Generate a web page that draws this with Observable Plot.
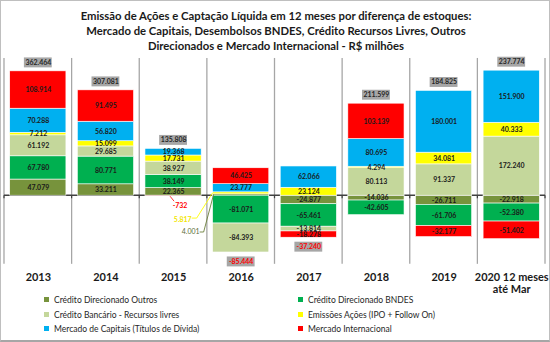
<!DOCTYPE html>
<html>
<head>
<meta charset="utf-8">
<script src="https://cdn.jsdelivr.net/npm/d3@7"></script>
<script src="https://cdn.jsdelivr.net/npm/@observablehq/plot@0.6"></script>
<style>
  html, body { margin: 0; padding: 0; background: #fff; }
  #frame { position: relative; width: 550px; height: 342px; box-sizing: border-box; border: 1px solid #BFBFBF; border-bottom: 2px solid #A6A6A6; overflow: hidden; font-family: Lato, "Open Sans", sans-serif; }
  #title { position: absolute; top: 7px; left: 0; width: 550px; text-align: center; font-weight: bold; font-size: 11.3px; line-height: 15px; color: #1a1a1a; }
  #chart { position: absolute; top: 51px; left: -1px; }
  #legend { position: absolute; top: 294px; left: 0; width: 550px; font-size: 8.5px; color: #262626; }
  .item { position: absolute; white-space: nowrap; line-height: 10px; }
  .sw { display: inline-block; width: 5px; height: 5px; margin-right: 5px; vertical-align: 1px; }
</style>
</head>
<body>
<div id="frame">
  <div id="title">Emissão de Ações e Captação Líquida em 12 meses por diferença de estoques:<br>Mercado de Capitais, Desembolsos BNDES, Crédito Recursos Livres, Outros<br>Direcionados e Mercado Internacional - R$ milhões</div>
  <div id="chart"></div>
  <div id="legend"></div>
</div>
<script>
// ---- data (R$ milhões) ----
const years = ["2013", "2014", "2015", "2016", "2017", "2018", "2019", "2020"];
const xLabels = ["2013", "2014", "2015", "2016", "2017", "2018", "2019", "2020 12 meses\naté Mar"];
const seriesNames = [
  "Crédito Direcionado Outros",
  "Crédito Direcionado  BNDES",
  "Crédito Bancário - Recursos livres",
  "Emissões Ações (IPO + Follow On)",
  "Mercado de Capitais (Títulos de Dívida)",
  "Mercado Internacional"
];
const seriesColors = ["#77933C", "#00B050", "#C4D79B", "#FFFF00", "#00B0F0", "#FF0000"];
const outros  = [47079, 33211, 22365, 4001, -24877, -14036, -26711, -22918];
const bndes   = [67780, 80771, 38149, -81071, -65461, -42605, -61706, -52380];
const livres  = [61192, 29685, 38927, -84393, -13814, 80113, 91337, 172240];
const acoes   = [7212, 15099, 17731, 5817, 23124, 4294, 34081, 40333];
const mercCap = [70288, 56820, 19368, 23777, 62066, 80695, 180001, 151900];
const mercInt = [108914, 91495, -732, 46425, -18278, 103139, -32177, -51402];
const totals  = [362464, 307081, 135808, -85444, -37240, 211599, 184825, 237774];
const yDomain = [-200000, 400000];
const callouts = [
  {year: "2015", series: "Mercado Internacional"},
  {year: "2016", series: "Emissões Ações (IPO + Follow On)"},
  {year: "2016", series: "Crédito Direcionado Outros"}
];

const valueArrays = [outros, bndes, livres, acoes, mercCap, mercInt];
const rows = [];
years.forEach((yr, i) => {
  seriesNames.forEach((s, j) => rows.push({year: yr, series: s, value: valueArrays[j][i]}));
});
const isCallout = d => callouts.some(c => c.year === d.year && c.series === d.series);
const totalRows = years.map((yr, i) => {
  const vals = valueArrays.map(a => a[i]);
  const pos = d3.sum(vals.filter(v => v > 0));
  const neg = d3.sum(vals.filter(v => v < 0));
  return {year: yr, total: totals[i], anchor: totals[i] >= 0 ? pos : neg};
});

const fmt = d3.formatLocale({decimal: ",", thousands: ".", grouping: [3], currency: ["R$", ""], minus: "-"}).format(",d");

const W = 552, marginLeft = 2, marginRight = 2, barInset = 5.75;

function overlay(index, scales) {
  const x = scales.x, y = scales.y;
  const band = typeof x.bandwidth === "function" ? x.bandwidth() : x.bandwidth;
  const g = d3.create("svg:g");
  const yTop = y(yDomain[1]), yBot = y(yDomain[0]), y0 = y(0);
  const edges = years.map(yr => x(yr)).concat([x(years[years.length - 1]) + band]);
  edges.forEach(px => {
    g.append("line").attr("x1", px).attr("x2", px).attr("y1", yTop).attr("y2", yBot)
      .attr("stroke", "#A6A6A6").attr("stroke-width", 1.3);
  });
  g.append("line").attr("x1", edges[0]).attr("x2", edges[edges.length - 1]).attr("y1", y0).attr("y2", y0)
    .attr("stroke", "#404040").attr("stroke-width", 1.5);
  edges.forEach(px => {
    g.append("line").attr("x1", px).attr("x2", px).attr("y1", y0).attr("y2", y0 + 3)
      .attr("stroke", "#404040").attr("stroke-width", 1.2);
  });
  return g.node();
}

function calloutMark(index, scales) {
  const x = scales.x, y = scales.y;
  const band = typeof x.bandwidth === "function" ? x.bandwidth() : x.bandwidth;
  const g = d3.create("svg:g").attr("font-family", "Lato, sans-serif").attr("font-size", 7).attr("font-weight", "bold");
  const y0 = y(0);
  const c15 = x("2015") + band / 2;
  const v15 = mercInt[years.indexOf("2015")];
  g.append("path").attr("d", `M${c15 - 3},${y0 + 1}L${c15 + 1},${y0 + 6}`).attr("stroke", "#FF0000").attr("fill", "none").attr("stroke-width", 0.8);
  g.append("text").attr("x", c15 + 7).attr("y", y0 + 10).attr("dy", "0.35em").attr("text-anchor", "middle").attr("fill", "#FF0000").text(fmt(v15));
  const i16 = years.indexOf("2016");
  const left16 = x("2016") + barInset;
  const yA = y(outros[i16] + acoes[i16] / 2);
  g.append("path").attr("d", `M${left16},${yA}L${left16 - 16},${y0 + 23}L${left16 - 21},${y0 + 23}`)
    .attr("stroke", "#FFFF00").attr("fill", "none").attr("stroke-width", 0.9);
  g.append("text").attr("x", left16 - 30).attr("y", y0 + 24).attr("dy", "0.35em").attr("text-anchor", "middle").attr("fill", "#F2E600").text(fmt(acoes[i16]));
  const yO = y(outros[i16] / 2);
  g.append("path").attr("d", `M${left16 + 1},${yO}L${left16 - 9},${y0 + 37}L${left16 - 13},${y0 + 37}`)
    .attr("stroke", "#6B7F3A").attr("fill", "none").attr("stroke-width", 0.9);
  g.append("text").attr("x", left16 - 22).attr("y", y0 + 37).attr("dy", "0.35em").attr("text-anchor", "middle").attr("fill", "#5E6E3A").attr("font-weight", "normal").text(fmt(outros[i16]));
  return g.node();
}

const stackOpts = {x: "year", y: "value", z: "series", order: seriesNames};

const plot = Plot.plot({
  width: W,
  height: 245,
  marginLeft, marginRight, marginTop: 6, marginBottom: 32,
  style: {fontFamily: "Lato, sans-serif", background: "transparent"},
  x: {domain: years, padding: 0, axis: null},
  y: {domain: yDomain, axis: null},
  color: {domain: seriesNames, range: seriesColors},
  marks: [
    overlay,
    Plot.barY(rows, Plot.stackY({...stackOpts, fill: "series", insetLeft: barInset, insetRight: barInset, stroke: "white", strokeWidth: 0.6})),
    Plot.text(rows, Plot.stackY({...stackOpts, text: d => isCallout(d) ? "" : fmt(d.value), fill: "#1a1a1a", fontSize: 7, fontWeight: "bold"})),
    Plot.tickY(totalRows.filter(d => d.total >= 0), {x: "year", y: "anchor", dy: -9, stroke: "#A6A6A6", strokeWidth: 10, inset: 20}),
    Plot.text(totalRows.filter(d => d.total >= 0), {x: "year", y: "anchor", dy: -9, text: d => fmt(d.total), fill: "#262626", fontSize: 7, fontWeight: "bold"}),
    Plot.tickY(totalRows.filter(d => d.total < 0), {x: "year", y: "anchor", dy: 9, stroke: "#A6A6A6", strokeWidth: 10, inset: 20}),
    Plot.text(totalRows.filter(d => d.total < 0), {x: "year", y: "anchor", dy: 9, text: d => fmt(d.total), fill: "#FF0000", fontSize: 7, fontWeight: "bold"}),
    calloutMark,
    Plot.text(years, {x: d => d, y: () => yDomain[0], dy: 8, lineAnchor: "top", lineHeight: 1.1, text: (d, i) => xLabels[i], fontSize: 11, fontWeight: "bold", fill: "#1a1a1a"})
  ]
});
document.getElementById("chart").appendChild(plot);

const legend = document.getElementById("legend");
seriesNames.forEach((name, n) => {
  const col = n % 2, row = Math.floor(n / 2);
  const div = document.createElement("div");
  div.className = "item";
  div.style.left = (col === 0 ? 43 : 297) + "px";
  div.style.top = (row * 14.5) + "px";
  div.innerHTML = `<span class="sw" style="background:${seriesColors[n]}"></span>${name}`;
  legend.appendChild(div);
});
</script>
</body>
</html>
